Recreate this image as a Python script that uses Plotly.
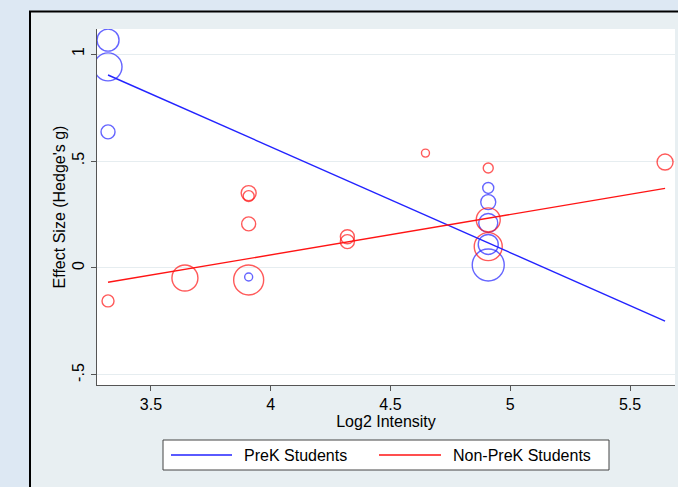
import plotly.graph_objects as go

# ---- data ----
prek_x = [3.321, 3.321, 3.321, 3.908, 4.908, 4.908, 4.908, 4.908, 4.908]
prek_y = [1.065, 0.94, 0.636, -0.042, 0.374, 0.308, 0.21, 0.11, 0.014]
prek_w = [22, 28, 14, 8, 11, 15, 19, 20, 32]

nonprek_x = [3.321, 3.642, 3.908, 3.908, 3.908, 3.908, 4.32, 4.32, 4.646,
             4.908, 4.908, 4.908, 5.646]
nonprek_y = [-0.154, -0.047, -0.056, 0.35, 0.336, 0.206, 0.146, 0.123, 0.537,
             0.467, 0.225, 0.10, 0.495]
nonprek_w = [12, 26, 30, 15, 11, 14, 14, 14, 8, 10, 24, 28, 16]

fit_x = [3.321, 5.646]
prek_fit_y = [0.902, -0.248]
nonprek_fit_y = [-0.067, 0.372]

x_ticks = [3.5, 4, 4.5, 5, 5.5]
x_tick_labels = ["3.5", "4", "4.5", "5", "5.5"]
y_ticks = [-0.5, 0, 0.5, 1]
y_tick_labels = ["-.5", "0", ".5", "1"]

BLUE = "rgb(35,35,255)"
RED = "rgb(255,20,20)"
FONT = "Liberation Sans, Arial, Helvetica, sans-serif"
FS = 16

fig = go.Figure()
fig.add_trace(go.Scatter(x=prek_x, y=prek_y, mode="markers", showlegend=False,
                         marker=dict(symbol="circle-open", size=prek_w, color=BLUE,
                                     line=dict(width=1.4, color=BLUE))))
fig.add_trace(go.Scatter(x=nonprek_x, y=nonprek_y, mode="markers", showlegend=False,
                         marker=dict(symbol="circle-open", size=nonprek_w, color=RED,
                                     line=dict(width=1.4, color=RED))))
fig.add_trace(go.Scatter(x=fit_x, y=prek_fit_y, mode="lines", name="PreK Students",
                         showlegend=False, line=dict(color=BLUE, width=1.4)))
fig.add_trace(go.Scatter(x=fit_x, y=nonprek_fit_y, mode="lines", name="Non-PreK Students",
                         showlegend=False, line=dict(color=RED, width=1.4)))

L, R, T, B = 97, 3, 29, 102
W, H = 678, 487
pw, ph = W - L - R, H - T - B

def px(x):
    return (x - L) / pw

def py(y):
    return (H - B - y) / ph

shapes = [
    # outer graph frame
    dict(type="rect", xref="paper", yref="paper", layer="below",
         x0=px(30), x1=px(700), y0=py(520), y1=py(11.5),
         fillcolor="#e8eff2", line=dict(color="black", width=2)),
    # white plot region
    dict(type="rect", xref="paper", yref="paper", layer="below",
         x0=0, x1=1, y0=0, y1=1, fillcolor="white", line=dict(width=0)),
    # legend box
    dict(type="rect", xref="paper", yref="paper",
         x0=px(163), x1=px(609), y0=py(470), y1=py(440),
         fillcolor="white", line=dict(color="#444", width=1)),
    dict(type="line", xref="paper", yref="paper",
         x0=px(171), x1=px(232), y0=py(455), y1=py(455),
         line=dict(color=BLUE, width=1.4)),
    dict(type="line", xref="paper", yref="paper",
         x0=px(379), x1=px(441), y0=py(455), y1=py(455),
         line=dict(color=RED, width=1.4)),
]

annotations = [
    dict(xref="paper", yref="paper", x=px(242), y=py(455), xanchor="left", yanchor="middle",
         text="PreK Students", showarrow=False, font=dict(family=FONT, size=FS, color="black")),
    dict(xref="paper", yref="paper", x=px(451), y=py(455), xanchor="left", yanchor="middle",
         text="Non-PreK Students", showarrow=False, font=dict(family=FONT, size=FS, color="black")),
]

fig.update_layout(
    width=W, height=H,
    margin=dict(l=L, r=R, t=T, b=B),
    paper_bgcolor="#dde8f3",
    plot_bgcolor="white",
    font=dict(family=FONT, size=FS, color="black"),
    shapes=shapes,
    annotations=annotations,
    showlegend=False,
    xaxis=dict(range=[3.275, 5.6875], tickvals=x_ticks, ticktext=x_tick_labels,
               showgrid=False, zeroline=False, showline=True, linecolor="#555",
               linewidth=1.3, ticks="outside", ticklen=5, tickcolor="#555",
               tickfont=dict(size=FS),
               title=dict(text="Log2 Intensity", font=dict(size=FS), standoff=2)),
    yaxis=dict(range=[-0.547, 1.117], tickvals=y_ticks, ticktext=y_tick_labels,
               showgrid=True, gridcolor="#e6edf0", gridwidth=1.2, zeroline=False,
               showline=True, linecolor="#555", linewidth=1.3, ticks="outside",
               ticklen=5, tickcolor="#555", tickangle=-90, tickfont=dict(size=FS),
               title=dict(text="Effect Size (Hedge's g)", font=dict(size=FS), standoff=0)),
)

fig.write_html("out.html",
               config={"displayModeBar": False},
               post_script="document.body.style.margin='0';"
                           "document.body.style.overflow='hidden';"
                           "document.body.style.background='#dde8f3';")
